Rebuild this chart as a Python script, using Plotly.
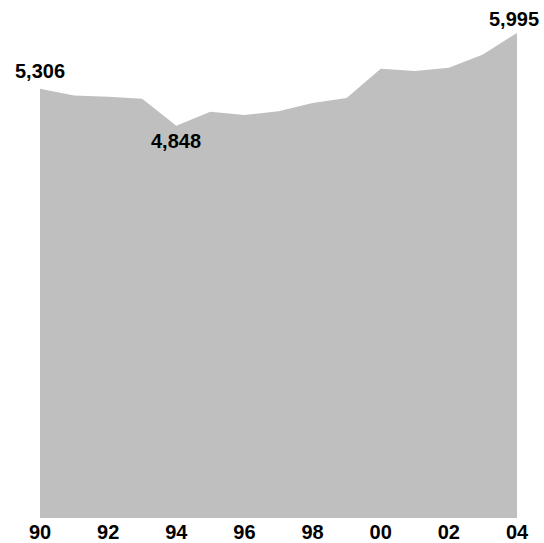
import plotly.graph_objects as go

years = [1990, 1991, 1992, 1993, 1994, 1995, 1996, 1997, 1998, 1999, 2000, 2001, 2002, 2003, 2004]
values = [5306, 5223, 5207, 5182, 4848, 5021, 4981, 5028, 5129, 5191, 5553, 5525, 5566, 5730, 5995]
tick_years = [1990, 1992, 1994, 1996, 1998, 2000, 2002, 2004]
tick_labels = ["90", "92", "94", "96", "98", "00", "02", "04"]
labelled = [(1990, 5306, "5,306", 0, 18), (1994, 4848, "4,848", 0, -15), (2004, 5995, "5,995", -3, 14)]

fig = go.Figure()
fig.add_trace(go.Scatter(x=years, y=values, mode="lines", fill="tozeroy",
                         line=dict(color="#bfbfbf", width=0), fillcolor="#bfbfbf",
                         hoverinfo="skip"))

for x, y, t, xs, ys in labelled:
    fig.add_annotation(x=x, y=y, text="<b>" + t + "</b>", showarrow=False,
                       xshift=xs, yshift=ys, xanchor="center", yanchor="middle",
                       font=dict(family="Liberation Sans, Arial", size=20, color="#000"))

fig.update_layout(
    width=544, height=543,
    margin=dict(l=40, r=27, t=20, b=25),
    paper_bgcolor="white", plot_bgcolor="white",
    showlegend=False,
    xaxis=dict(range=[1990, 2004], tickvals=tick_years, ticktext=["<b>" + s + "</b>" for s in tick_labels],
               showgrid=False, zeroline=False, showline=False, ticks="", automargin=False,
               tickfont=dict(family="Liberation Sans, Arial", size=20, color="#000")),
    yaxis=dict(range=[0, 6155], visible=False, showgrid=False, zeroline=False, automargin=False),
)

fig.write_html("out.html")
